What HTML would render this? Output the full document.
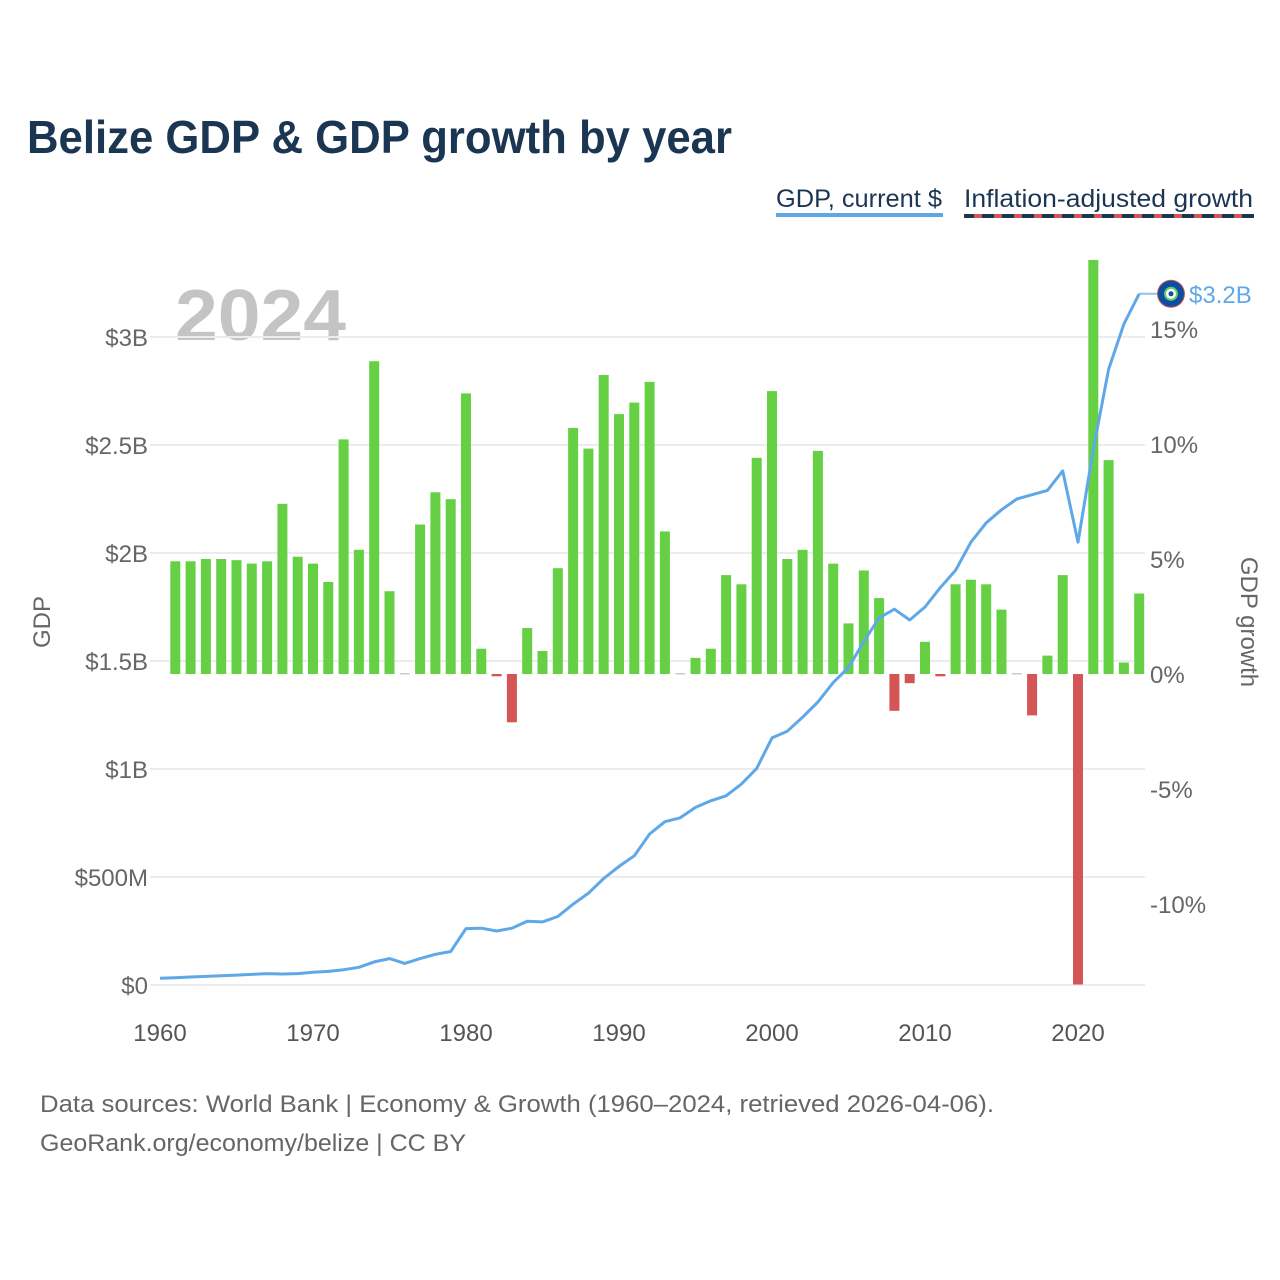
<!DOCTYPE html>
<html><head><meta charset="utf-8"><style>
html,body{margin:0;padding:0;background:#fff;}
svg{display:block;font-family:"Liberation Sans",sans-serif;}
</style></head><body>
<svg id="chart" width="1280" height="1280" viewBox="0 0 1280 1280">
<text x="27" y="153" font-size="46" font-weight="bold" fill="#1b3652" textLength="705" lengthAdjust="spacingAndGlyphs">Belize GDP &amp; GDP growth by year</text>
<g>
<g>
<text x="776" y="207" font-size="25" fill="#1b3652" textLength="166" lengthAdjust="spacingAndGlyphs">GDP, current $</text>
<rect x="776" y="213" width="167" height="4" fill="#5fa8e8"/>
</g>
<g>
<text x="964" y="207" font-size="25" fill="#1b3652" textLength="289" lengthAdjust="spacingAndGlyphs">Inflation-adjusted growth</text>
<rect x="964" y="214" width="290" height="4" fill="#1b3652"/>
<line x1="974" y1="216" x2="1254" y2="216" stroke="#d45555" stroke-width="4" stroke-dasharray="8 12"/>
</g>
</g>
<text x="175" y="340" font-size="72" font-weight="bold" fill="#c4c4c4" textLength="171" lengthAdjust="spacingAndGlyphs">2024</text>
<g id="grid"></g>
<g id="bars"></g>
<g id="line"></g>
<g id="axes"></g>
<text transform="translate(50,622) rotate(-90)" text-anchor="middle" font-size="24" fill="#666">GDP</text>
<text transform="translate(1241,622) rotate(90)" text-anchor="middle" font-size="24" fill="#666">GDP growth</text>
<text x="40" y="1112" font-size="24" fill="#666" textLength="954" lengthAdjust="spacingAndGlyphs">Data sources: World Bank | Economy &amp; Growth (1960–2024, retrieved 2026-04-06).</text>
<text x="40" y="1151" font-size="24" fill="#666" textLength="426" lengthAdjust="spacingAndGlyphs">GeoRank.org/economy/belize | CC BY</text>
</svg>
<script>
const gdpYears = [];
for (let y = 1960; y <= 2024; y++) gdpYears.push(y);
const gdpValues = [0.031,0.034,0.037,0.040,0.043,0.046,0.049,0.053,0.051,0.053,0.059,0.063,0.071,0.082,0.107,0.122,0.100,0.122,0.142,0.155,0.261,0.263,0.250,0.263,0.295,0.292,0.317,0.374,0.425,0.493,0.549,0.598,0.699,0.756,0.774,0.822,0.853,0.876,0.930,1.003,1.144,1.175,1.24,1.31,1.40,1.47,1.59,1.70,1.74,1.69,1.75,1.84,1.92,2.05,2.14,2.20,2.25,2.27,2.29,2.38,2.05,2.48,2.85,3.06,3.20];
const growthYears = [];
for (let y = 1961; y <= 2024; y++) growthYears.push(y);
const growthValues = [4.9,4.9,5.0,5.0,4.95,4.8,4.9,7.4,5.1,4.8,4.0,10.2,5.4,13.6,3.6,0,6.5,7.9,7.6,12.2,1.1,-0.1,-2.1,2.0,1.0,4.6,10.7,9.8,13.0,11.3,11.8,12.7,6.2,0,0.7,1.1,4.3,3.9,9.4,12.3,5.0,5.4,9.7,4.8,2.2,4.5,3.3,-1.6,-0.4,1.4,-0.1,3.9,4.1,3.9,2.8,0,-1.8,0.8,4.3,-13.5,18.0,9.3,0.5,3.5];
const gdpTicks = [0,0.5,1,1.5,2,2.5,3];
const gdpTickLabels = ["$0","$500M","$1B","$1.5B","$2B","$2.5B","$3B"];
const growthTicks = [-10,-5,0,5,10,15];
const growthTickLabels = ["-10%","-5%","0%","5%","10%","15%"];
const xTicks = [1960,1970,1980,1990,2000,2010,2020];
const lastLabel = "$3.2B";

const NS = "http://www.w3.org/2000/svg";
const xS = yr => 160 + (yr - 1960) * 15.3;
const yL = v => 985 - v * 216;
const yR = p => 674 - p * 23;
function mk(tag, attrs, parent){const e=document.createElementNS(NS,tag);for(const k in attrs)e.setAttribute(k,attrs[k]);parent.appendChild(e);return e;}
const grid=document.getElementById('grid'),bars=document.getElementById('bars'),line=document.getElementById('line'),axes=document.getElementById('axes');
gdpTicks.forEach((t,i)=>{
  const g=mk('line',{x1:150,x2:1145,y1:yL(t),y2:yL(t),stroke:'#ececec','stroke-width':2},grid);
  
  
  const tx=mk('text',{x:148,y:yL(t)+9,'text-anchor':'end','font-size':24,fill:'#666'},axes);
  tx.textContent=gdpTickLabels[i];
  
  
});
growthTicks.forEach((t,i)=>{
  const tx=mk('text',{x:1150,y:yR(t)+9,'font-size':24,fill:'#666'},axes);
  tx.textContent=growthTickLabels[i];
  
  
});
xTicks.forEach(t=>{
  const tx=mk('text',{x:xS(t),y:1041,'text-anchor':'middle','font-size':24,fill:'#555'},axes);
  tx.textContent=t;
  
  
});
growthYears.forEach((yr,i)=>{
  const v=growthValues[i];
  const x=xS(yr)-5;
  let r;
  if(v===0){r=mk('rect',{x:x,y:673,width:10,height:1.5,fill:'#ccc'},bars);}
  else{const y0=yR(Math.max(v,0)),y1=yR(Math.min(v,0));
    r=mk('rect',{x:x,y:y0,width:10,height:Math.max(y1-y0,2),fill:v>0?'#66d044':'#d45555'},bars);}
  
  
});
const pts=gdpYears.map((yr,i)=>xS(yr).toFixed(1)+','+yL(gdpValues[i]).toFixed(1));
const last=gdpValues[gdpValues.length-1];
const lx=xS(gdpYears[gdpYears.length-1]),ly=yL(last);
const pl=mk('polyline',{points:pts.join(' '),fill:'none',stroke:'#5fa8e8','stroke-width':3,'stroke-linejoin':'round'},line);


const cn=mk('line',{x1:lx,y1:ly,x2:1158,y2:ly,stroke:'#8fc0ee','stroke-width':2},line);


const mg=mk('g',{},line);


mk('circle',{cx:1171,cy:ly,r:14,fill:'#d45555'},mg);
mk('circle',{cx:1171,cy:ly,r:13,fill:'#0b4ea2',transform:`translate(0,0)`},mg);
mk('circle',{cx:1171,cy:ly,r:6,fill:'#fff',stroke:'#6c6',"stroke-width":2},mg);
mk('circle',{cx:1171,cy:ly,r:2.5,fill:'#0b4ea2'},mg);
const el=mk('text',{x:1189,y:ly+9,'font-size':24,fill:'#5fa8e8'},line);
el.textContent=lastLabel;


</script>
</body></html>
